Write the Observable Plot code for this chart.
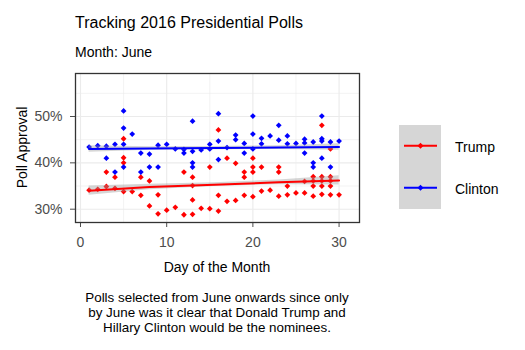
<!DOCTYPE html>
<html>
<head>
<meta charset="utf-8">
<script src="https://cdn.jsdelivr.net/npm/d3@7"></script>
<script src="https://cdn.jsdelivr.net/npm/@observablehq/plot@0.6"></script>
<style>
  html, body { margin: 0; padding: 0; background: #fff; }
  #wrap { position: relative; width: 525px; height: 350px; font-family: "Liberation Sans", Arial, sans-serif; }
  #chart, #overlay { position: absolute; left: 0; top: 0; }
  #overlay text { font-family: "Liberation Sans", Arial, sans-serif; fill: #000; }
  #caption { position: absolute; left: 75px; top: 289.7px; width: 284px; text-align: center;
             font-size: 13.4px; line-height: 15px; color: #000; white-space: nowrap; }
</style>
</head>
<body>
<div id="wrap">
  <div id="chart"></div>
  <svg id="overlay" width="525" height="350"></svg>
  <div id="caption"></div>
</div>
<script>
// ---- data ----
const trumpDays = [1,2,3,3,4,4,5,5,5,5,6,7,7,8,8,9,9,10,11,12,12,13,13,13,13,14,15,15,16,16,16,17,17,18,18,19,19,19,20,20,20,20,21,21,22,23,23,23,24,24,25,26,26,27,27,27,27,28,28,28,28,28,29,29,29,29,29,30];
const trumpValues = [34.1,34.3,38.0,34.9,36.9,34.5,45.2,41.1,40.0,33.8,33.8,36.9,33.0,36.1,30.7,33.1,29.0,29.8,30.4,38.0,28.8,36.9,35.1,32.0,28.9,30.2,39.1,30.1,47.1,33.0,29.6,41.0,31.7,39.9,31.9,38.0,36.9,33.0,41.0,39.1,38.0,32.7,39.1,33.9,34.1,39.1,38.0,32.8,35.0,33.1,33.5,36.0,33.5,37.0,36.1,35.0,32.8,48.1,37.0,36.1,35.0,33.2,43.0,37.0,36.1,35.0,33.1,33.1];
const clintonDays = [1,2,3,3,4,4,5,5,5,5,6,7,7,8,8,9,9,10,11,12,12,13,13,13,13,14,15,15,16,16,16,17,18,18,19,19,20,20,20,21,21,22,23,23,24,24,25,26,26,26,27,27,27,28,28,28,28,29,29,30];
const clintonValues = [43.4,43.7,43.6,41.0,44.0,38.0,51.2,47.5,44.0,39.1,46.2,42.1,38.0,41.9,39.1,43.8,39.1,44.0,43.0,42.9,42.1,49.0,42.5,40.0,39.1,42.8,44.0,43.0,50.6,44.7,40.7,43.3,46.0,45.0,44.2,42.1,50.1,46.2,43.0,45.3,44.1,45.8,48.1,44.9,45.8,44.1,44.2,45.1,44.3,42.1,44.5,40.0,39.1,50.1,45.2,44.7,41.0,44.5,39.1,44.7];

// smoothed trend (linear fit) with confidence band
const trendDays   = [1, 8, 15.5, 23, 30];
const trumpFit    = [34.0, 34.8, 35.3, 35.8, 36.2];
const trumpLow    = [33.0, 34.2, 34.9, 35.3, 35.2];
const trumpHigh   = [35.0, 35.4, 35.7, 36.3, 37.2];
const clintonFit  = [43.0, 43.1, 43.2, 43.3, 43.4];
const clintonLow  = [42.3, 42.7, 42.85, 42.9, 42.7];
const clintonHigh = [43.7, 43.5, 43.55, 43.7, 44.1];

const seriesNames = ["Trump", "Clinton"];
const seriesColors = ["#ff0000", "#0000ff"];

const xTicks = [0, 10, 20, 30];
const xMinor = [5, 15, 25];
const yTicks = [30, 40, 50];
const yMinor = [35, 45, 55];

const titleText = "Tracking 2016 Presidential Polls";
const subtitleText = "Month: June";
const xLabel = "Day of the Month";
const yLabel = "Poll Approval";
const captionLines = [
  "Polls selected from June onwards since only",
  "by June was it clear that Donald Trump and",
  "Hillary Clinton would be the nominees."
];

// ---- tables ----
const trump = trumpDays.map((d, i) => ({day: d, value: trumpValues[i]}));
const clinton = clintonDays.map((d, i) => ({day: d, value: clintonValues[i]}));
const trend = trendDays.map((d, i) => ({
  day: d,
  tFit: trumpFit[i], tLo: trumpLow[i], tHi: trumpHigh[i],
  cFit: clintonFit[i], cLo: clintonLow[i], cHi: clintonHigh[i]
}));

const grid = "#ebebeb";
const plot = Plot.plot({
  width: 525,
  height: 350,
  marginLeft: 75,
  marginRight: 166,
  marginTop: 73,
  marginBottom: 128,
  style: {fontFamily: "Liberation Sans, Arial, sans-serif", fontSize: "14px", color: "#4d4d4d", background: "transparent"},
  x: {domain: [-0.58, 32.37], ticks: xTicks, tickSize: 5, tickPadding: 10, label: null},
  y: {domain: [27.13, 59.28], ticks: yTicks, tickSize: 5, tickPadding: 8, tickFormat: d => d + "%", label: null},
  marks: [
    Plot.ruleX(xMinor, {stroke: grid, strokeWidth: 0.6}),
    Plot.ruleY(yMinor, {stroke: grid, strokeWidth: 0.6}),
    Plot.ruleX(xTicks, {stroke: grid, strokeWidth: 1.1}),
    Plot.ruleY(yTicks, {stroke: grid, strokeWidth: 1.1}),
    Plot.dot(trump, {x: "day", y: "value", symbol: "diamond2", fill: seriesColors[0], stroke: "none", r: 2.6}),
    Plot.dot(clinton, {x: "day", y: "value", symbol: "diamond2", fill: seriesColors[1], stroke: "none", r: 2.6}),
    Plot.areaY(trend, {x: "day", y1: "tLo", y2: "tHi", fill: "#999999", fillOpacity: 0.4}),
    Plot.areaY(trend, {x: "day", y1: "cLo", y2: "cHi", fill: "#999999", fillOpacity: 0.4}),
    Plot.line(trend, {x: "day", y: "tFit", stroke: seriesColors[0], strokeWidth: 2}),
    Plot.line(trend, {x: "day", y: "cFit", stroke: seriesColors[1], strokeWidth: 2}),
    Plot.frame({stroke: "#333333", strokeWidth: 1.3})
  ]
});
document.getElementById("chart").appendChild(plot);

// ---- titles, labels, caption, legend ----
const ns = "http://www.w3.org/2000/svg";
const ov = document.getElementById("overlay");
function txt(str, x, y, size, anchor, extra) {
  const t = document.createElementNS(ns, "text");
  t.setAttribute("x", x); t.setAttribute("y", y);
  t.setAttribute("font-size", size);
  t.setAttribute("text-anchor", anchor || "start");
  if (extra) for (const k in extra) t.setAttribute(k, extra[k]);
  t.textContent = str;
  ov.appendChild(t);
  return t;
}
txt(titleText, 75, 28.3, 16);
txt(subtitleText, 75, 57, 14);
txt(xLabel, 217, 271.7, 14, "middle");
txt(yLabel, 0, 0, 14, "middle", {transform: "translate(26.5,147.5) rotate(-90)"});

const cap = document.getElementById("caption");
captionLines.forEach((line, i) => {
  if (i) cap.appendChild(document.createElement("br"));
  cap.appendChild(document.createTextNode(line));
});

// legend keys
const keyBg = document.createElementNS(ns, "rect");
keyBg.setAttribute("x", 399); keyBg.setAttribute("y", 125);
keyBg.setAttribute("width", 42); keyBg.setAttribute("height", 84);
keyBg.setAttribute("fill", "#d6d6d6");
ov.appendChild(keyBg);
seriesNames.forEach((name, i) => {
  const cy = 145.7 + i * 42;
  const ln = document.createElementNS(ns, "line");
  ln.setAttribute("x1", 404); ln.setAttribute("x2", 437);
  ln.setAttribute("y1", cy); ln.setAttribute("y2", cy);
  ln.setAttribute("stroke", seriesColors[i]); ln.setAttribute("stroke-width", 2);
  ov.appendChild(ln);
  const dm = document.createElementNS(ns, "path");
  const s = 3;
  dm.setAttribute("d", `M${420.5},${cy - s}L${420.5 + s},${cy}L${420.5},${cy + s}L${420.5 - s},${cy}Z`);
  dm.setAttribute("fill", seriesColors[i]);
  ov.appendChild(dm);
  txt(name, 455, cy + 6.5, 14);
});
</script>
</body>
</html>
